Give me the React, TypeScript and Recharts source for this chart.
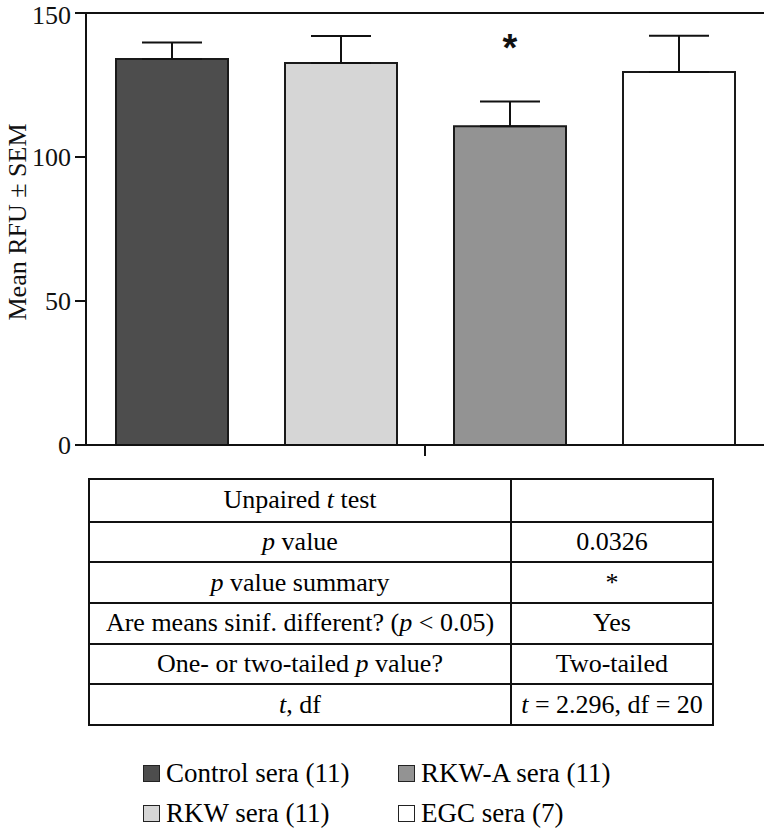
import React from "react"
import { Bar, BarChart, XAxis, YAxis, ErrorBar, LabelList, ReferenceLine, Label } from "recharts"

const groups = ["Control sera (11)", "RKW sera (11)", "RKW-A sera (11)", "EGC sera (7)"]
const means = [134, 132.6, 110.7, 129.5]
const sems = [5.8, 9.4, 8.6, 12.6]
const marks = ["", "", "*", ""]
const fills = ["#4d4d4d", "#d6d6d6", "#939393", "#ffffff"]
const yTicks = [0, 50, 100, 150]

// stats table: _x_ marks italic text
const testLabels = [
  "Unpaired _t_ test",
  "_p_ value",
  "_p_ value summary",
  "Are means sinif. different? (_p_ < 0.05)",
  "One- or two-tailed _p_ value?",
  "_t_, df",
]
const testValues = ["", "0.0326", "*", "Yes", "Two-tailed", "_t_ = 2.296, df = 20"]

// legend order, by column
const legendCols = [[0, 1], [2, 3]]

const serif = "Liberation Serif, Tinos, DejaVu Serif, Noto Serif, serif"
const ink = "#111"

const row: Record<string, any> = { name: "group" }
groups.forEach((_, i) => {
  row["s" + i] = means[i]
  row["e" + i] = [0, sems[i]]
  row["m" + i] = marks[i]
})
const data = [row]

function rich(s: string) {
  return (
    <span style={{ whiteSpace: "pre" }}>
      {s.split("_").map((part, i) =>
        i % 2 === 1 ? <i key={i}>{part}</i> : <React.Fragment key={i}>{part}</React.Fragment>
      )}
    </span>
  )
}

const renderMark = (props: any) => {
  const { x, y, width, value } = props
  if (!value) return null
  return (
    <text x={x + width / 2} y={y - 78} textAnchor="middle" dominantBaseline="central"
      fontFamily="Liberation Sans, Arial, sans-serif" fontWeight="bold" fontSize={38} fill={ink}>
      {value}
    </text>
  )
}

function StatsTable() {
  const rowH = 40.67
  return (
    <div style={{ position: "absolute", left: 88, top: 478, width: 626, border: `2px solid ${ink}`, boxSizing: "border-box", fontFamily: serif, fontSize: 26 }}>
      {testLabels.map((lab, i) => (
        <div key={i} style={{ display: "flex", height: rowH, boxSizing: "border-box", borderTop: i ? `2px solid ${ink}` : "none" }}>
          <div style={{ width: 420, display: "flex", alignItems: "center", justifyContent: "center", borderRight: `2px solid ${ink}` }}>
            {rich(lab)}
          </div>
          <div style={{ flex: 1, display: "flex", alignItems: "center", justifyContent: "center" }}>
            {rich(testValues[i])}
          </div>
        </div>
      ))}
    </div>
  )
}

function ChartLegend() {
  const colX = [143, 398]
  return (
    <>
      {legendCols.map((col, c) =>
        col.map((gi, r) => (
          <div key={gi} style={{ position: "absolute", left: colX[c], top: 756 + r * 40, height: 34, display: "flex", alignItems: "center", fontFamily: serif, fontSize: 27, whiteSpace: "nowrap" }}>
            <span style={{ width: 15, height: 15, background: fills[gi], border: "1.5px solid #222", marginRight: 6, display: "inline-block" }} />
            <span>{groups[gi]}</span>
          </div>
        ))
      )}
    </>
  )
}

export default function App() {
  return (
    <div style={{ position: "absolute", left: 0, top: 0, width: 766, height: 835, background: "#fff" }}>
      <BarChart width={766} height={470} data={data} margin={{ top: 13, right: 2, left: 0, bottom: 5 }} barGap={57} barSize={112}>
        <XAxis dataKey="name" height={20} tickFormatter={() => ""} tickSize={11}
          axisLine={{ stroke: ink, strokeWidth: 2 }} tickLine={{ stroke: ink, strokeWidth: 2 }} />
        <YAxis domain={[0, 150]} ticks={yTicks} width={86} tickSize={11} tickMargin={4}
          axisLine={{ stroke: ink, strokeWidth: 2 }} tickLine={{ stroke: ink, strokeWidth: 2 }}
          tick={{ fill: ink, fontSize: 26, fontFamily: serif }}>
          <Label content={() => (
            <text x={26} y={222} transform="rotate(-90 26 222)" textAnchor="middle" fontFamily={serif} fontSize={26} fill={ink}>
              Mean RFU ± SEM
            </text>
          )} />
        </YAxis>
        <YAxis yAxisId="frame" orientation="right" domain={[0, 150]} width={0} tick={false} tickLine={false}
          axisLine={{ stroke: ink, strokeWidth: 2 }} />
        <ReferenceLine y={150} stroke={ink} strokeWidth={2} />
        {groups.map((g, i) => (
          <Bar key={g} dataKey={"s" + i} name={g} fill={fills[i]} stroke="#1a1a1a" strokeWidth={2} isAnimationActive={false}>
            <ErrorBar dataKey={"e" + i} width={30} stroke={ink} strokeWidth={2} direction="y" />
            <LabelList dataKey={"m" + i} content={renderMark} />
          </Bar>
        ))}
      </BarChart>
      <StatsTable />
      <ChartLegend />
    </div>
  )
}
